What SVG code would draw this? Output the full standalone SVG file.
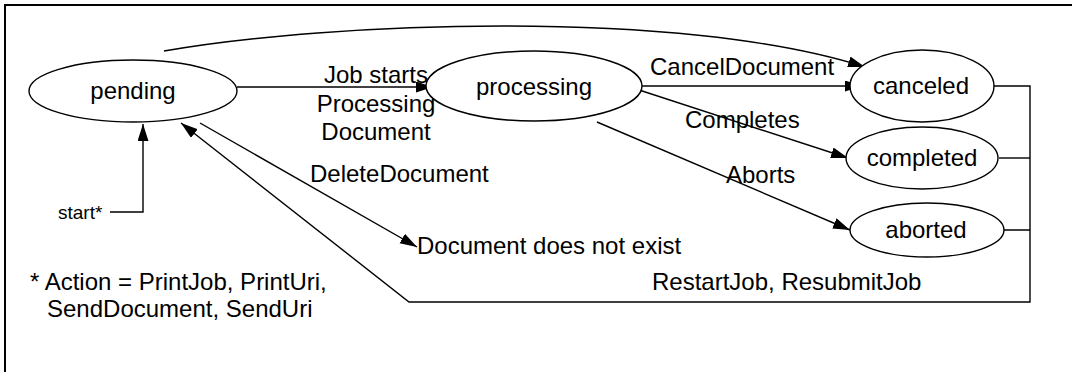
<svg xmlns="http://www.w3.org/2000/svg" width="1072" height="372" viewBox="0 0 1072 372">
<style>
.node{fill:#fff;stroke:#000;stroke-width:1.4}
.lbl{font-family:"Liberation Sans",Arial,sans-serif;font-size:24px;fill:#000}
.c{text-anchor:middle}
.edge{fill:none;stroke:#000;stroke-width:1.4}
</style>
<defs>
<marker id="arr" markerUnits="userSpaceOnUse" markerWidth="18" markerHeight="12" refX="17" refY="5.5" orient="auto">
<path d="M0,0 L17,5.5 L0,11 z" fill="#000"/>
</marker>
</defs>
<rect width="1072" height="372" fill="#fff"/>
<path d="M5,372 L5,5 L1072,5" fill="none" stroke="#000" stroke-width="2"/>
<g id="connectors">
<path class="edge" d="M237,87 L433,87" marker-end="url(#arr)"/>
<path class="edge" d="M633,86 L862,86" marker-end="url(#arr)"/>
<path class="edge" d="M633,88 L848,158" marker-end="url(#arr)"/>
<path class="edge" d="M597,122 L850,230" marker-end="url(#arr)"/>
<path class="edge" d="M200,123 L417,247" marker-end="url(#arr)"/>
<path class="edge" d="M164,51 C330,22 680,8 865,67" marker-end="url(#arr)"/>
<path class="edge" d="M994,86 L1030,86 L1030,302 L409,302 L181,123" stroke-width="1.6" marker-end="url(#arr)"/>
<path class="edge" d="M999,158 L1030,158"/>
<path class="edge" d="M995,230 L1030,230"/>
<path class="edge" d="M110,212 L143,212 L143,124" marker-end="url(#arr)"/>
</g>
<g id="pending">
<ellipse class="node" cx="133" cy="91" rx="104" ry="31"/>
<text class="lbl c" x="133" y="99">pending</text>
</g>
<g id="processing">
<ellipse class="node" cx="534" cy="86" rx="108" ry="35"/>
<text class="lbl c" x="534" y="95">processing</text>
</g>
<g id="canceled">
<ellipse class="node" cx="922" cy="86" rx="72" ry="36"/>
<text class="lbl c" x="921" y="94">canceled</text>
</g>
<g id="completed">
<ellipse class="node" cx="922" cy="158" rx="76" ry="31"/>
<text class="lbl c" x="922" y="166">completed</text>
</g>
<g id="aborted">
<ellipse class="node" cx="927" cy="230" rx="77" ry="27"/>
<text class="lbl c" x="926" y="238">aborted</text>
</g>
<g id="labels">
<text class="lbl c" x="376" y="83">Job starts</text>
<text class="lbl c" x="376" y="112">Processing</text>
<text class="lbl c" x="376" y="140">Document</text>
<text class="lbl" x="310" y="182">DeleteDocument</text>
<text class="lbl" x="650" y="75">CancelDocument</text>
<text class="lbl" x="685" y="128">Completes</text>
<text class="lbl" x="726" y="183">Aborts</text>
<text class="lbl" x="417" y="254">Document does not exist</text>
<text class="lbl" x="652" y="290">RestartJob, ResubmitJob</text>
<text class="lbl" x="58" y="219" style="font-size:19px">start*</text>
<text class="lbl" x="30" y="290">* Action = PrintJob, PrintUri,</text>
<text class="lbl" x="47" y="317">SendDocument, SendUri</text>
</g>
</svg>
